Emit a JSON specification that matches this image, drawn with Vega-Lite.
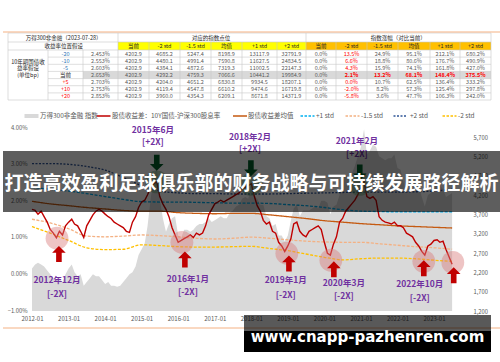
{
"$schema":"https://vega.github.io/schema/vega-lite/v6.json",
"width":500,"height":362,"autosize":{"type":"none"},"padding":0,"background":"#ffffff",
"config":{"view":{"stroke":null},"font":"Noto Sans CJK SC"},
"resolve":{"scale":{"x":"independent","y":"independent","color":"independent","strokeDash":"independent"}},
"datasets":{
"m":[
{"d":"2012-01","i":2300,"v":1.75},{"d":"2012-02","i":2400,"v":1.72},{"d":"2012-03","i":2450,"v":1.62},{"d":"2012-04","i":2400,"v":1.70},{"d":"2012-05","i":2350,"v":1.55},{"d":"2012-06","i":2250,"v":1.40},{"d":"2012-07","i":2150,"v":1.20},{"d":"2012-08","i":2050,"v":1.10},{"d":"2012-09","i":2000,"v":0.97},{"d":"2012-10","i":2050,"v":1.15},{"d":"2012-11","i":1950,"v":1.05},{"d":"2012-12","i":2150,"v":1.30},
{"d":"2013-01","i":2300,"v":1.40},{"d":"2013-02","i":2400,"v":1.48},{"d":"2013-03","i":2200,"v":1.35},{"d":"2013-04","i":2100,"v":1.30},{"d":"2013-05","i":2150,"v":1.15},{"d":"2013-06","i":1850,"v":0.98},{"d":"2013-07","i":1950,"v":1.30},{"d":"2013-08","i":2050,"v":1.45},{"d":"2013-09","i":2150,"v":1.60},{"d":"2013-10","i":2100,"v":1.70},{"d":"2013-11","i":2100,"v":1.75},{"d":"2013-12","i":2000,"v":1.70},
{"d":"2014-01","i":1900,"v":1.62},{"d":"2014-02","i":1950,"v":1.55},{"d":"2014-03","i":1850,"v":1.50},{"d":"2014-04","i":1850,"v":1.40},{"d":"2014-05","i":1830,"v":1.35},{"d":"2014-06","i":1850,"v":1.30},{"d":"2014-07","i":1950,"v":1.25},{"d":"2014-08","i":2050,"v":1.15},{"d":"2014-09","i":2150,"v":1.12},{"d":"2014-10","i":2200,"v":1.40},{"d":"2014-11","i":2350,"v":1.55},{"d":"2014-12","i":2650,"v":1.80},
{"d":"2015-01","i":2800,"v":1.95},{"d":"2015-02","i":2950,"v":2.00},{"d":"2015-03","i":3400,"v":2.15},{"d":"2015-04","i":4100,"v":2.35},{"d":"2015-05","i":4600,"v":2.45},{"d":"2015-06","i":4950,"v":2.50},{"d":"2015-07","i":4100,"v":2.10},{"d":"2015-08","i":3600,"v":1.90},{"d":"2015-09","i":3250,"v":1.75},{"d":"2015-10","i":3450,"v":1.55},{"d":"2015-11","i":3600,"v":1.25},{"d":"2015-12","i":3650,"v":1.05},
{"d":"2016-01","i":3150,"v":0.85},{"d":"2016-02","i":3100,"v":0.90},{"d":"2016-03","i":3300,"v":0.95},{"d":"2016-04","i":3300,"v":1.00},{"d":"2016-05","i":3250,"v":1.05},{"d":"2016-06","i":3300,"v":0.98},{"d":"2016-07","i":3400,"v":1.10},{"d":"2016-08","i":3450,"v":1.05},{"d":"2016-09","i":3450,"v":1.10},{"d":"2016-10","i":3500,"v":1.30},{"d":"2016-11","i":3600,"v":1.60},{"d":"2016-12","i":3500,"v":1.75},
{"d":"2017-01","i":3550,"v":1.90},{"d":"2017-02","i":3600,"v":1.95},{"d":"2017-03","i":3650,"v":2.00},{"d":"2017-04","i":3600,"v":1.95},{"d":"2017-05","i":3600,"v":2.00},{"d":"2017-06","i":3750,"v":2.05},{"d":"2017-07","i":3800,"v":2.10},{"d":"2017-08","i":3900,"v":2.15},{"d":"2017-09","i":3950,"v":2.20},{"d":"2017-10","i":4100,"v":2.30},{"d":"2017-11","i":4150,"v":2.35},{"d":"2017-12","i":4100,"v":2.40},
{"d":"2018-01","i":4400,"v":2.45},{"d":"2018-02","i":4150,"v":2.10},{"d":"2018-03","i":4100,"v":1.85},{"d":"2018-04","i":3950,"v":1.70},{"d":"2018-05","i":3950,"v":1.45},{"d":"2018-06","i":3650,"v":1.35},{"d":"2018-07","i":3600,"v":1.40},{"d":"2018-08","i":3400,"v":1.15},{"d":"2018-09","i":3450,"v":1.10},{"d":"2018-10","i":3150,"v":0.85},{"d":"2018-11","i":3150,"v":0.75},{"d":"2018-12","i":3000,"v":0.60},
{"d":"2019-01","i":3150,"v":0.75},{"d":"2019-02","i":3550,"v":0.95},{"d":"2019-03","i":3850,"v":1.35},{"d":"2019-04","i":3950,"v":1.40},{"d":"2019-05","i":3650,"v":1.15},{"d":"2019-06","i":3800,"v":1.05},{"d":"2019-07","i":3800,"v":1.00},{"d":"2019-08","i":3800,"v":1.15},{"d":"2019-09","i":3850,"v":1.20},{"d":"2019-10","i":3900,"v":1.25},{"d":"2019-11","i":3850,"v":1.30},{"d":"2019-12","i":4050,"v":1.20},
{"d":"2020-01","i":4050,"v":0.85},{"d":"2020-02","i":4000,"v":0.55},{"d":"2020-03","i":3700,"v":0.50},{"d":"2020-04","i":3900,"v":0.80},{"d":"2020-05","i":3950,"v":1.00},{"d":"2020-06","i":4200,"v":1.40},{"d":"2020-07","i":4650,"v":1.50},{"d":"2020-08","i":4750,"v":1.70},{"d":"2020-09","i":4600,"v":1.80},{"d":"2020-10","i":4750,"v":1.90},{"d":"2020-11","i":4950,"v":2.00},{"d":"2020-12","i":5200,"v":2.15},
{"d":"2021-01","i":5450,"v":2.35},{"d":"2021-02","i":5900,"v":2.50},{"d":"2021-03","i":5250,"v":2.10},{"d":"2021-04","i":5350,"v":2.05},{"d":"2021-05","i":5500,"v":2.10},{"d":"2021-06","i":5450,"v":2.00},{"d":"2021-07","i":5200,"v":1.55},{"d":"2021-08","i":5150,"v":1.45},{"d":"2021-09","i":5100,"v":1.40},{"d":"2021-10","i":5150,"v":1.38},{"d":"2021-11","i":5150,"v":1.35},{"d":"2021-12","i":5250,"v":1.40},
{"d":"2022-01","i":4900,"v":1.30},{"d":"2022-02","i":4850,"v":1.30},{"d":"2022-03","i":4550,"v":1.25},{"d":"2022-04","i":4250,"v":1.10},{"d":"2022-05","i":4400,"v":1.05},{"d":"2022-06","i":4700,"v":1.00},{"d":"2022-07","i":4550,"v":0.85},{"d":"2022-08","i":4450,"v":0.75},{"d":"2022-09","i":4150,"v":0.60},{"d":"2022-10","i":3900,"v":0.50},{"d":"2022-11","i":4200,"v":0.75},{"d":"2022-12","i":4250,"v":0.80},
{"d":"2023-01","i":4550,"v":0.90},{"d":"2023-02","i":4500,"v":0.92},{"d":"2023-03","i":4450,"v":0.85},{"d":"2023-04","i":4350,"v":0.88},{"d":"2023-05","i":4150,"v":0.65},{"d":"2023-06","i":4200,"v":0.45},{"d":"2023-07","i":4250,"v":0.25}
],
"sm":[
{"d":"2012-01","mean":1.97,"p1":2.35,"p2":3.00,"m15":1.48,"m2":1.28},
{"d":"2012-07","mean":1.90,"p1":2.30,"p2":3.00,"m15":1.38,"m2":1.10},
{"d":"2013-01","mean":1.85,"p1":2.25,"p2":2.98,"m15":1.22,"m2":0.90},
{"d":"2013-07","mean":1.80,"p1":2.18,"p2":2.92,"m15":1.02,"m2":0.70},
{"d":"2014-01","mean":1.76,"p1":2.10,"p2":2.82,"m15":1.00,"m2":0.65},
{"d":"2014-07","mean":1.72,"p1":2.02,"p2":2.62,"m15":1.02,"m2":0.66},
{"d":"2015-01","mean":1.70,"p1":1.96,"p2":2.40,"m15":1.05,"m2":0.78},
{"d":"2015-07","mean":1.70,"p1":1.95,"p2":2.25,"m15":1.03,"m2":0.76},
{"d":"2016-01","mean":1.66,"p1":1.95,"p2":2.20,"m15":1.00,"m2":0.73},
{"d":"2016-07","mean":1.64,"p1":1.94,"p2":2.18,"m15":0.96,"m2":0.72},
{"d":"2017-01","mean":1.63,"p1":1.93,"p2":2.18,"m15":0.94,"m2":0.72},
{"d":"2017-07","mean":1.64,"p1":1.92,"p2":2.17,"m15":0.96,"m2":0.73},
{"d":"2018-01","mean":1.64,"p1":1.92,"p2":2.17,"m15":0.99,"m2":0.74},
{"d":"2018-07","mean":1.60,"p1":1.91,"p2":2.17,"m15":0.96,"m2":0.68},
{"d":"2019-01","mean":1.55,"p1":1.88,"p2":2.18,"m15":0.92,"m2":0.62},
{"d":"2019-07","mean":1.50,"p1":1.85,"p2":2.19,"m15":0.88,"m2":0.53},
{"d":"2020-01","mean":1.44,"p1":1.80,"p2":2.20,"m15":0.86,"m2":0.44},
{"d":"2020-07","mean":1.40,"p1":1.74,"p2":2.21,"m15":0.85,"m2":0.37},
{"d":"2021-01","mean":1.36,"p1":1.70,"p2":2.22,"m15":0.85,"m2":0.40},
{"d":"2021-07","mean":1.33,"p1":1.69,"p2":2.22,"m15":0.81,"m2":0.42},
{"d":"2022-01","mean":1.30,"p1":1.68,"p2":2.22,"m15":0.77,"m2":0.42},
{"d":"2022-07","mean":1.28,"p1":1.68,"p2":2.23,"m15":0.73,"m2":0.40},
{"d":"2023-01","mean":1.26,"p1":1.68,"p2":2.25,"m15":0.70,"m2":0.36},
{"d":"2023-07","mean":1.24,"p1":1.68,"p2":2.30,"m15":0.66,"m2":0.33}
],
"tt":[
{"r":0,"c":0.95,"t":"万得300非金融（2023-07-28）","n":"k"},{"r":0,"c":5.5,"t":"对应的指数点位","n":"k"},{"r":0,"c":11.5,"t":"指数涨幅（对比当前）","n":"k"},
{"r":1,"c":0.95,"t":"收益率位置假设","n":"k"},
{"r":1,"c":3,"t":"当前","n":"k"},{"r":1,"c":4,"t":"-2 std","n":"k"},{"r":1,"c":5,"t":"-1.5 std","n":"k"},{"r":1,"c":6,"t":"均值","n":"k"},{"r":1,"c":7,"t":"+1 std","n":"k"},{"r":1,"c":8,"t":"+2 std","n":"k"},
{"r":1,"c":9,"t":"当前","n":"k"},{"r":1,"c":10,"t":"-2 std","n":"k"},{"r":1,"c":11,"t":"-1.5 std","n":"k"},{"r":1,"c":12,"t":"均值","n":"k"},{"r":1,"c":13,"t":"+1 std","n":"k"},{"r":1,"c":14,"t":"+2 std","n":"k"},
{"r":3.18,"c":0,"t":"10年期国债收","n":"k"},{"r":4.08,"c":0,"t":"益率假设","n":"k"},{"r":5,"c":0,"t":"(单位bp)","n":"k"},
{"r":2,"c":1,"t":"-20","n":"b"},{"r":2,"c":2,"t":"2.453%","n":"g"},{"r":2,"c":3,"t":"4202.9","n":"g"},{"r":2,"c":4,"t":"4685.2","n":"g"},{"r":2,"c":5,"t":"5247.4","n":"g"},{"r":2,"c":6,"t":"8198.9","n":"g"},{"r":2,"c":7,"t":"13117.9","n":"g"},{"r":2,"c":8,"t":"32791.9","n":"g"},{"r":2,"c":9,"t":"0.0%","n":"g"},{"r":2,"c":10,"t":"13.5%","n":"r"},{"r":2,"c":11,"t":"24.9%","n":"g"},{"r":2,"c":12,"t":"95.1%","n":"g"},{"r":2,"c":13,"t":"212.1%","n":"g"},{"r":2,"c":14,"t":"680.2%","n":"g"},
{"r":3,"c":1,"t":"-10","n":"b"},{"r":3,"c":2,"t":"2.553%","n":"g"},{"r":3,"c":3,"t":"4202.9","n":"g"},{"r":3,"c":4,"t":"4480.1","n":"g"},{"r":3,"c":5,"t":"4991.4","n":"g"},{"r":3,"c":6,"t":"7590.8","n":"g"},{"r":3,"c":7,"t":"11627.5","n":"g"},{"r":3,"c":8,"t":"24834.5","n":"g"},{"r":3,"c":9,"t":"0.0%","n":"g"},{"r":3,"c":10,"t":"6.6%","n":"r"},{"r":3,"c":11,"t":"18.8%","n":"g"},{"r":3,"c":12,"t":"80.6%","n":"g"},{"r":3,"c":13,"t":"176.7%","n":"g"},{"r":3,"c":14,"t":"490.9%","n":"g"},
{"r":4,"c":1,"t":"-5","n":"b"},{"r":4,"c":2,"t":"2.603%","n":"g"},{"r":4,"c":3,"t":"4202.9","n":"g"},{"r":4,"c":4,"t":"4384.1","n":"g"},{"r":4,"c":5,"t":"4872.6","n":"g"},{"r":4,"c":6,"t":"7319.3","n":"g"},{"r":4,"c":7,"t":"11002.5","n":"g"},{"r":4,"c":8,"t":"22147.3","n":"g"},{"r":4,"c":9,"t":"0.0%","n":"g"},{"r":4,"c":10,"t":"4.3%","n":"r"},{"r":4,"c":11,"t":"15.9%","n":"g"},{"r":4,"c":12,"t":"74.1%","n":"g"},{"r":4,"c":13,"t":"161.8%","n":"g"},{"r":4,"c":14,"t":"427.0%","n":"g"},
{"r":5,"c":1,"t":"当前","n":"k"},{"r":5,"c":2,"t":"2.653%","n":"g"},{"r":5,"c":3,"t":"4202.9","n":"g"},{"r":5,"c":4,"t":"4292.2","n":"g"},{"r":5,"c":5,"t":"4759.3","n":"g"},{"r":5,"c":6,"t":"7066.6","n":"g"},{"r":5,"c":7,"t":"10441.2","n":"g"},{"r":5,"c":8,"t":"19984.9","n":"g"},{"r":5,"c":9,"t":"0.0%","n":"g"},{"r":5,"c":10,"t":"2.1%","n":"rb"},{"r":5,"c":11,"t":"13.2%","n":"rb"},{"r":5,"c":12,"t":"68.1%","n":"rb"},{"r":5,"c":13,"t":"148.4%","n":"rb"},{"r":5,"c":14,"t":"375.5%","n":"rb"},
{"r":6,"c":1,"t":"+5","n":"r"},{"r":6,"c":2,"t":"2.703%","n":"g"},{"r":6,"c":3,"t":"4202.9","n":"g"},{"r":6,"c":4,"t":"4204.0","n":"g"},{"r":6,"c":5,"t":"4651.2","n":"g"},{"r":6,"c":6,"t":"6830.8","n":"g"},{"r":6,"c":7,"t":"9934.5","n":"g"},{"r":6,"c":8,"t":"18207.1","n":"g"},{"r":6,"c":9,"t":"0.0%","n":"g"},{"r":6,"c":10,"t":"0.0%","n":"r"},{"r":6,"c":11,"t":"10.7%","n":"g"},{"r":6,"c":12,"t":"62.5%","n":"g"},{"r":6,"c":13,"t":"136.4%","n":"g"},{"r":6,"c":14,"t":"333.2%","n":"g"},
{"r":7,"c":1,"t":"+10","n":"r"},{"r":7,"c":2,"t":"2.753%","n":"g"},{"r":7,"c":3,"t":"4202.9","n":"g"},{"r":7,"c":4,"t":"4119.4","n":"g"},{"r":7,"c":5,"t":"4547.8","n":"g"},{"r":7,"c":6,"t":"6610.2","n":"g"},{"r":7,"c":7,"t":"9474.6","n":"g"},{"r":7,"c":8,"t":"16719.8","n":"g"},{"r":7,"c":9,"t":"0.0%","n":"g"},{"r":7,"c":10,"t":"-2.0%","n":"r"},{"r":7,"c":11,"t":"8.2%","n":"g"},{"r":7,"c":12,"t":"57.3%","n":"g"},{"r":7,"c":13,"t":"125.4%","n":"g"},{"r":7,"c":14,"t":"297.8%","n":"g"},
{"r":8,"c":1,"t":"+20","n":"r"},{"r":8,"c":2,"t":"2.853%","n":"g"},{"r":8,"c":3,"t":"4202.9","n":"g"},{"r":8,"c":4,"t":"3960.0","n":"g"},{"r":8,"c":5,"t":"4354.3","n":"g"},{"r":8,"c":6,"t":"6209.1","n":"g"},{"r":8,"c":7,"t":"8671.8","n":"g"},{"r":8,"c":8,"t":"14371.9","n":"g"},{"r":8,"c":9,"t":"0.0%","n":"g"},{"r":8,"c":10,"t":"-5.8%","n":"r"},{"r":8,"c":11,"t":"3.6%","n":"g"},{"r":8,"c":12,"t":"47.7%","n":"g"},{"r":8,"c":13,"t":"106.3%","n":"g"},{"r":8,"c":14,"t":"242.0%","n":"g"}
]
},
"layer":[
{
"layer":[
{"data":{"values":[{"k":"yellow","c0":3,"c1":9,"r0":1,"r1":2},{"k":"orange","c0":9,"c1":15,"r0":1,"r1":2},{"k":"gray","c0":2,"c1":15,"r0":5,"r1":6}]},
"mark":{"type":"rect"},
"encoding":{
"x":{"field":"c0","type":"quantitative","scale":{"domain":[0,1,2,3,4,5,6,7,8,9,10,11,12,13,14,15],"range":[8,48,83,118,149,180,211,242,277,306,336,367,398,430,460,491],"nice":false,"zero":false},"axis":null},
"x2":{"field":"c1"},
"y":{"field":"r0","type":"quantitative","scale":{"domain":[0,1,2,3,4,5,6,7,8,9],"range":[33,42,50,57.1,64.3,71.4,78.6,85.7,92.9,100],"nice":false,"zero":false},"axis":null},
"y2":{"field":"r1"},
"color":{"field":"k","type":"nominal","scale":{"domain":["yellow","orange","gray"],"range":["#ffff00","#ffc000","#d9d9d9"]},"legend":null}}},
{"data":{"values":[
{"x":0,"x2":15,"y":0,"y2":0},{"x":0,"x2":15,"y":1,"y2":1},{"x":0,"x2":15,"y":2,"y2":2},{"x":1,"x2":15,"y":3,"y2":3},{"x":1,"x2":15,"y":4,"y2":4},{"x":1,"x2":15,"y":5,"y2":5},{"x":1,"x2":15,"y":6,"y2":6},{"x":1,"x2":15,"y":7,"y2":7},{"x":1,"x2":15,"y":8,"y2":8},{"x":0,"x2":15,"y":9,"y2":9},
{"x":0,"x2":0,"y":0,"y2":9},{"x":1,"x2":1,"y":2,"y2":9},{"x":2,"x2":2,"y":2,"y2":9},{"x":3,"x2":3,"y":0,"y2":9},{"x":4,"x2":4,"y":1,"y2":9},{"x":5,"x2":5,"y":1,"y2":9},{"x":6,"x2":6,"y":1,"y2":9},{"x":7,"x2":7,"y":1,"y2":9},{"x":8,"x2":8,"y":1,"y2":9},{"x":9,"x2":9,"y":0,"y2":9},{"x":10,"x2":10,"y":1,"y2":9},{"x":11,"x2":11,"y":1,"y2":9},{"x":12,"x2":12,"y":1,"y2":9},{"x":13,"x2":13,"y":1,"y2":9},{"x":14,"x2":14,"y":1,"y2":9},{"x":15,"x2":15,"y":0,"y2":9}]},
"mark":{"type":"rule","color":"#c8c8c8","strokeWidth":0.6},
"encoding":{
"x":{"field":"x","type":"quantitative","scale":{"domain":[0,1,2,3,4,5,6,7,8,9,10,11,12,13,14,15],"range":[8,48,83,118,149,180,211,242,277,306,336,367,398,430,460,491],"nice":false,"zero":false},"axis":null},
"x2":{"field":"x2"},
"y":{"field":"y","type":"quantitative","scale":{"domain":[0,1,2,3,4,5,6,7,8,9],"range":[33,42,50,57.1,64.3,71.4,78.6,85.7,92.9,100],"nice":false,"zero":false},"axis":null},
"y2":{"field":"y2"}}}
]
},
{
"data":{"name":"tt"},
"encoding":{
"x":{"field":"c","type":"quantitative","scale":{"domain":[0,1,2,3,4,5,6,7,8,9,10,11,12,13,14],"range":[28,65.5,100.5,133.5,164.5,195.5,226.5,259.5,291.5,321,351.5,382.5,414,445,475.5],"nice":false,"zero":false},"axis":null},
"y":{"field":"r","type":"quantitative","scale":{"domain":[0,1,2,3,4,5,6,7,8],"range":[37.5,46,53.6,60.7,67.9,75,82.1,89.3,96.4],"nice":false,"zero":false},"axis":null},
"text":{"field":"t"},
"color":{"field":"n","type":"nominal","scale":{"domain":["k","g","b","r","rb"],"range":["#262626","#595959","#2e75b6","#ff0000","#ff0000"]},"legend":null}},
"layer":[
{"transform":[{"filter":"datum.n != 'rb'"}],"mark":{"type":"text","fontSize":5.5}},
{"transform":[{"filter":"datum.n == 'rb'"}],"mark":{"type":"text","fontSize":5.5,"fontWeight":"bold"}}
]
},
{
"data":{"values":[{"i":0},{"i":1},{"i":2},{"i":3},{"i":4},{"i":5},{"i":6}]},
"encoding":{
"x":{"field":"i","type":"quantitative","scale":{"domain":[0,1,2,3,4,5,6],"range":[31.5,103.5,240,307.5,352.5,400.5,449.5],"nice":false,"zero":false},"axis":null},
"y":{"datum":0,"type":"quantitative","scale":{"domain":[0,1],"range":[116,117],"nice":false,"zero":false},"axis":null}},
"layer":[
{"transform":[{"filter":"datum.i == 0"}],"mark":{"type":"point","shape":"M-1,0L1,0","size":196,"filled":false,"stroke":"#d9d9d9","strokeWidth":4,"opacity":1}},
{"transform":[{"filter":"datum.i > 0"}],"mark":{"type":"point","shape":"M-1,0L1,0","size":196,"filled":false,"strokeWidth":1.5,"opacity":1},
"encoding":{
"color":{"field":"i","type":"nominal","scale":{"domain":[1,2,3,4,5,6],"range":["#c00000","#c55a11","#00b0f0","#f4b183","#2f5597","#ffc000"]},"legend":null},
"strokeDash":{"field":"i","type":"nominal","scale":{"domain":[1,2,3,4,5,6],"range":[[1,0],[1,0],[2.5,1.5],[2.5,1.5],[2,1.5],[2.5,1.5]]},"legend":null}}}
]
},
{
"data":{"values":[{"i":0,"t":"万得300非金融 指数"},{"i":1,"t":"股债收益差：10Y国债-沪深300股息率"},{"i":2,"t":"股债收益差均值"},{"i":3,"t":"+1 std"},{"i":4,"t":"-1.5 std"},{"i":5,"t":"+2 std"},{"i":6,"t":"-2 std"}]},
"mark":{"type":"text","align":"left","fontSize":6.5,"color":"#595959"},
"encoding":{
"x":{"field":"i","type":"quantitative","scale":{"domain":[0,1,2,3,4,5,6],"range":[40,112,248,316,361,410,458],"nice":false,"zero":false},"axis":null},
"y":{"datum":0,"type":"quantitative","scale":{"domain":[0,1],"range":[116,117],"nice":false,"zero":false},"axis":null},
"text":{"field":"t"}}
},
{
"data":{"name":"m"},
"mark":{"type":"area","color":"#d9d9d9","opacity":1},
"encoding":{
"x":{"field":"d","type":"temporal","scale":{"domain":[{"year":2012,"month":1,"date":1,"utc":true},{"year":2023,"month":1,"date":1,"utc":true}],"range":[32,434]},"axis":null},
"y":{"field":"i","type":"quantitative","scale":{"domain":[1200,5700],"range":[311,137],"nice":false,"zero":false},
"axis":{"orient":"right","offset":-33,"values":[1200,1700,2200,2700,3200,3700,4200,4700,5200,5700],"labelExpr":"format(datum.value, ',')","domain":false,"ticks":false,"tickSize":0,"grid":false,"labelPadding":6,"labelFontSize":5.8,"labelColor":"#595959","title":null}},
"y2":{"datum":1200}}
},
{
"encoding":{
"x":{"field":"d","type":"temporal","scale":{"domain":[{"year":2012,"month":1,"date":1,"utc":true},{"year":2023,"month":1,"date":1,"utc":true}],"range":[32,434]},
"axis":{"orient":"bottom","offset":-51,"format":"%Y-%m","tickCount":{"interval":"year","step":1},"domain":false,"ticks":false,"tickSize":0,"grid":false,"labelPadding":4,"labelFontSize":6,"labelColor":"#595959","title":null,"labelFlush":false,"labelOverlap":false}},
"y":{"field":"v","type":"quantitative","scale":{"domain":[-1,4],"range":[310,127],"nice":false,"zero":false},
"axis":{"orient":"left","offset":-33,"values":[-1,0,1,2,3,4],"labelExpr":"format(datum.value,'.2f')+'%'","domain":false,"ticks":false,"tickSize":0,"grid":false,"labelPadding":6,"labelFontSize":5.8,"labelColor":"#595959","title":null}}},
"layer":[
{"data":{"name":"sm"},"transform":[{"fold":["p2","p1","m15","m2","mean"],"as":["k","v"]}],
"mark":{"type":"line","strokeWidth":1.3,"interpolate":"monotone"},
"encoding":{
"color":{"field":"k","type":"nominal","scale":{"domain":["p2","p1","m15","m2","mean"],"range":["#2f5597","#00b0f0","#f4b183","#ffc000","#c55a11"]},"legend":null},
"strokeDash":{"field":"k","type":"nominal","scale":{"domain":["p2","p1","m15","m2","mean"],"range":[[2,1.5],[3,1.5],[3,1.5],[3,1.5],[1,0]]},"legend":null}}},
{"data":{"name":"m"},"mark":{"type":"line","color":"#c00000","strokeWidth":1.4}},
{"data":{"values":[{"d":"2012-09-07","v":0.96},{"d":"2016-02-07","v":0.85},{"d":"2018-12-22","v":0.55},{"d":"2020-03-06","v":0.36},{"d":"2022-09-21","v":0.33},{"d":"2023-07-08","v":0.30}]},
"mark":{"type":"point","shape":"circle","filled":true,"size":520,"color":"#d97c7c","opacity":0.45,"strokeWidth":0}},
{"data":{"values":[{"d":"2015-06-01","v":2.5},{"d":"2017-12-28","v":2.43},{"d":"2020-12-20","v":2.43}]},
"mark":{"type":"point","shape":"circle","filled":true,"size":520,"color":"#5aa469","opacity":0.45,"strokeWidth":0}},
{"data":{"values":[{"d":"2012-09-26","v":0.53},{"d":"2016-03-08","v":0.38},{"d":"2019-01-12","v":0.27},{"d":"2020-04-05","v":0.11},{"d":"2022-09-21","v":0.14},{"d":"2023-07-17","v":-0.05}]},
"mark":{"type":"point","shape":"M0,-1L0.85,-0.15L0.35,-0.15L0.35,1L-0.35,1L-0.35,-0.15L-0.85,-0.15Z","filled":true,"size":256,"color":"#c00000","opacity":1,"strokeWidth":0}},
{"data":{"values":[{"d":"2015-06-01","v":3.02},{"d":"2017-12-28","v":2.87},{"d":"2020-12-20","v":2.76}]},
"mark":{"type":"point","shape":"M0,1L0.85,0.15L0.35,0.15L0.35,-1L-0.35,-1L-0.35,0.15L-0.85,0.15Z","filled":true,"size":256,"color":"#00602b","opacity":1,"strokeWidth":0}},
{"data":{"values":[
{"d":"2012-09-07","v":-0.19,"t":"2012年12月"},{"d":"2012-09-07","v":-0.57,"t":"[-2X]"},
{"d":"2016-04-07","v":-0.14,"t":"2016年1月"},{"d":"2016-04-07","v":-0.52,"t":"[-2X]"},
{"d":"2018-12-12","v":-0.19,"t":"2019年1月"},{"d":"2018-12-12","v":-0.60,"t":"[-2X]"},
{"d":"2020-07-14","v":-0.25,"t":"2020年3月"},{"d":"2020-07-14","v":-0.63,"t":"[-2X]"},
{"d":"2022-08-12","v":-0.30,"t":"2022年10月"},{"d":"2022-08-12","v":-0.66,"t":"[-2X]"},
{"d":"2015-04-23","v":3.93,"t":"2015年6月"},{"d":"2015-04-23","v":3.58,"t":"[+2X]"},
{"d":"2017-12-19","v":3.72,"t":"2018年2月"},{"d":"2017-12-19","v":3.39,"t":"[+2X]"},
{"d":"2020-11-21","v":3.61,"t":"2021年2月"},{"d":"2020-11-21","v":3.25,"t":"[+2X]"}]},
"mark":{"type":"text","fontSize":8.5,"fontWeight":"bold","color":"#7030a0"},
"encoding":{"text":{"field":"t"}}}
]
},
{
"data":{"values":[{"t":"打造高效盈利足球俱乐部的财务战略与可持续发展路径解析"}]},
"encoding":{
"x":{"datum":0,"type":"quantitative","scale":{"domain":[0,1],"range":[3,500],"nice":false,"zero":false},"axis":null},
"y":{"datum":0,"type":"quantitative","scale":{"domain":[0,1],"range":[151,212],"nice":false,"zero":false},"axis":null}},
"layer":[
{"mark":{"type":"rect","color":"#000000","opacity":0.63},"encoding":{"x2":{"datum":1},"y2":{"datum":1}}},
{"mark":{"type":"text","color":"#ffffff","fontSize":19,"fontWeight":"bold","font":"Noto Sans CJK SC"},
"encoding":{"x":{"datum":0.5,"type":"quantitative","scale":{"domain":[0,1],"range":[3,500],"nice":false,"zero":false},"axis":null},
"y":{"datum":0.54,"type":"quantitative","scale":{"domain":[0,1],"range":[151,212],"nice":false,"zero":false},"axis":null},
"text":{"field":"t"}}}
]
},
{
"data":{"values":[{"p":0},{"p":1}]},
"mark":{"type":"rule","color":"#f4b183","strokeWidth":1},
"encoding":{
"y":{"field":"p","type":"quantitative","scale":{"domain":[0,1],"range":[32,328],"nice":false,"zero":false},"axis":null},
"x":{"datum":0,"type":"quantitative","scale":{"domain":[0,1],"range":[3,500],"nice":false,"zero":false},"axis":null},
"x2":{"datum":1}}
},
{
"data":{"values":[{"t":"www.cnapp-pazhenren.com"}]},
"encoding":{
"x":{"datum":0,"type":"quantitative","scale":{"domain":[0,1],"range":[244,491],"nice":false,"zero":false},"axis":null},
"y":{"datum":0,"type":"quantitative","scale":{"domain":[0,1,2],"range":[315,331,352],"nice":false,"zero":false},"axis":null}},
"layer":[
{"mark":{"type":"rect","color":"#000000","opacity":0.65},"encoding":{"x2":{"datum":1},"y2":{"datum":1}}},
{"mark":{"type":"rect","color":"#000000","opacity":1},"encoding":{
"y":{"datum":1,"type":"quantitative","scale":{"domain":[0,1,2],"range":[315,331,352],"nice":false,"zero":false},"axis":null},
"x2":{"datum":1},"y2":{"datum":2}}},
{"mark":{"type":"text","color":"#ffffff","fontSize":15,"fontWeight":"bold","font":"DejaVu Sans","baseline":"alphabetic"},
"encoding":{
"x":{"datum":0.5,"type":"quantitative","scale":{"domain":[0,1],"range":[244,491],"nice":false,"zero":false},"axis":null},
"y":{"datum":1.524,"type":"quantitative","scale":{"domain":[0,1,2],"range":[315,331,352],"nice":false,"zero":false},"axis":null},
"text":{"field":"t"}}}
]
}
]
}
